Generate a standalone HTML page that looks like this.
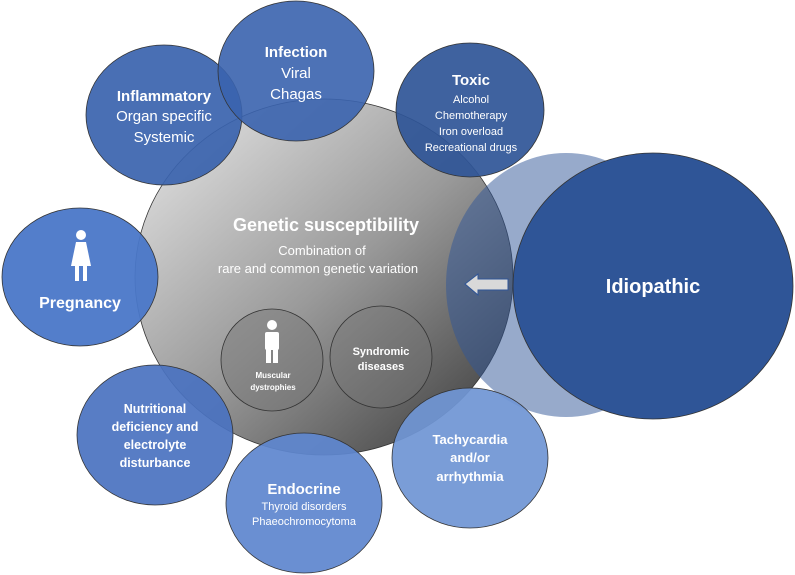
<!DOCTYPE html>
<html><head><meta charset="utf-8"><style>
html,body{margin:0;padding:0;background:#fff;}
svg{display:block;}
text{font-family:"Liberation Sans",sans-serif;fill:#fff;text-anchor:middle;}
.b{font-weight:bold;}
</style></head><body>
<svg width="795" height="575" viewBox="0 0 795 575">
<defs>
<linearGradient id="g" x1="0.15" y1="0.15" x2="0.85" y2="0.9">
<stop offset="0" stop-color="#d4d4d4"/><stop offset="0.5" stop-color="#9a9a9a"/><stop offset="1" stop-color="#4e4e4e"/>
</linearGradient>
</defs>
<g stroke="#333" stroke-width="0.8">
<ellipse cx="324" cy="277" rx="189" ry="178" fill="url(#g)"/>
<ellipse cx="566" cy="285" rx="120" ry="132" fill="#2f5597" fill-opacity="0.5" stroke="none"/>
<ellipse cx="653" cy="286" rx="140" ry="133" fill="#2f5597"/>
<ellipse cx="164" cy="115" rx="78" ry="70" fill="#3a63ae" fill-opacity="0.92"/>
<ellipse cx="296" cy="71" rx="78" ry="70" fill="#3a63ae" fill-opacity="0.9"/>
<ellipse cx="470" cy="110" rx="74" ry="67" fill="#2f5597" fill-opacity="0.92"/>
<ellipse cx="80" cy="277" rx="78" ry="69" fill="#4a77c8" fill-opacity="0.95"/>
<ellipse cx="155" cy="435" rx="78" ry="70" fill="#4a72c0" fill-opacity="0.92"/>
<ellipse cx="304" cy="503" rx="78" ry="70" fill="#5f87cf" fill-opacity="0.93"/>
<ellipse cx="470" cy="458" rx="78" ry="70" fill="#7096d4" fill-opacity="0.93"/>
<circle cx="272" cy="360" r="51" fill="#777" fill-opacity="0.5"/>
<circle cx="381" cy="357" r="51" fill="#777" fill-opacity="0.4"/>
</g>
<polygon points="465,284 478,274 478,279 508,279 508,290 478,290 478,295" fill="#d9d9d9" stroke="#2f5597" stroke-width="1"/>
<text x="164" y="101" class="b" font-size="15">Inflammatory</text>
<text x="164" y="121" font-size="15">Organ specific</text>
<text x="164" y="142" font-size="15">Systemic</text>
<text x="296" y="57" class="b" font-size="15">Infection</text>
<text x="296" y="78" font-size="15">Viral</text>
<text x="296" y="99" font-size="15">Chagas</text>
<text x="471" y="85" class="b" font-size="15">Toxic</text>
<text x="471" y="103" font-size="11">Alcohol</text>
<text x="471" y="119" font-size="11">Chemotherapy</text>
<text x="471" y="135" font-size="11">Iron overload</text>
<text x="471" y="151" font-size="11">Recreational drugs</text>
<text x="326" y="231" class="b" font-size="18">Genetic susceptibility</text>
<text x="322" y="255" font-size="13">Combination of</text>
<text x="318" y="273" font-size="13">rare and common genetic variation</text>
<text x="653" y="293" class="b" font-size="20">Idiopathic</text>
<text x="80" y="308" class="b" font-size="16">Pregnancy</text>
<g fill="#fff">
<circle cx="81" cy="235" r="5"/>
<polygon points="76,242 86,242 91,266 71,266"/>
<rect x="75" y="265" width="4" height="16"/><rect x="83" y="265" width="4" height="16"/>
<circle cx="272" cy="325" r="5"/>
<rect x="265" y="332" width="14" height="18" rx="2"/>
<rect x="266" y="348" width="5" height="15"/><rect x="273" y="348" width="5" height="15"/>
</g>
<text x="273" y="378" class="b" font-size="8">Muscular</text>
<text x="273" y="390" class="b" font-size="8">dystrophies</text>
<text x="381" y="355" class="b" font-size="11">Syndromic</text>
<text x="381" y="370" class="b" font-size="11">diseases</text>
<text x="155" y="413" class="b" font-size="12.5">Nutritional</text>
<text x="155" y="431" class="b" font-size="12.5">deficiency and</text>
<text x="155" y="449" class="b" font-size="12.5">electrolyte</text>
<text x="155" y="467" class="b" font-size="12.5">disturbance</text>
<text x="304" y="494" class="b" font-size="15">Endocrine</text>
<text x="304" y="510" font-size="11">Thyroid disorders</text>
<text x="304" y="525" font-size="11">Phaeochromocytoma</text>
<text x="470" y="444" class="b" font-size="13">Tachycardia</text>
<text x="470" y="462" class="b" font-size="13">and/or</text>
<text x="470" y="481" class="b" font-size="13">arrhythmia</text>
</svg>
</body></html>
